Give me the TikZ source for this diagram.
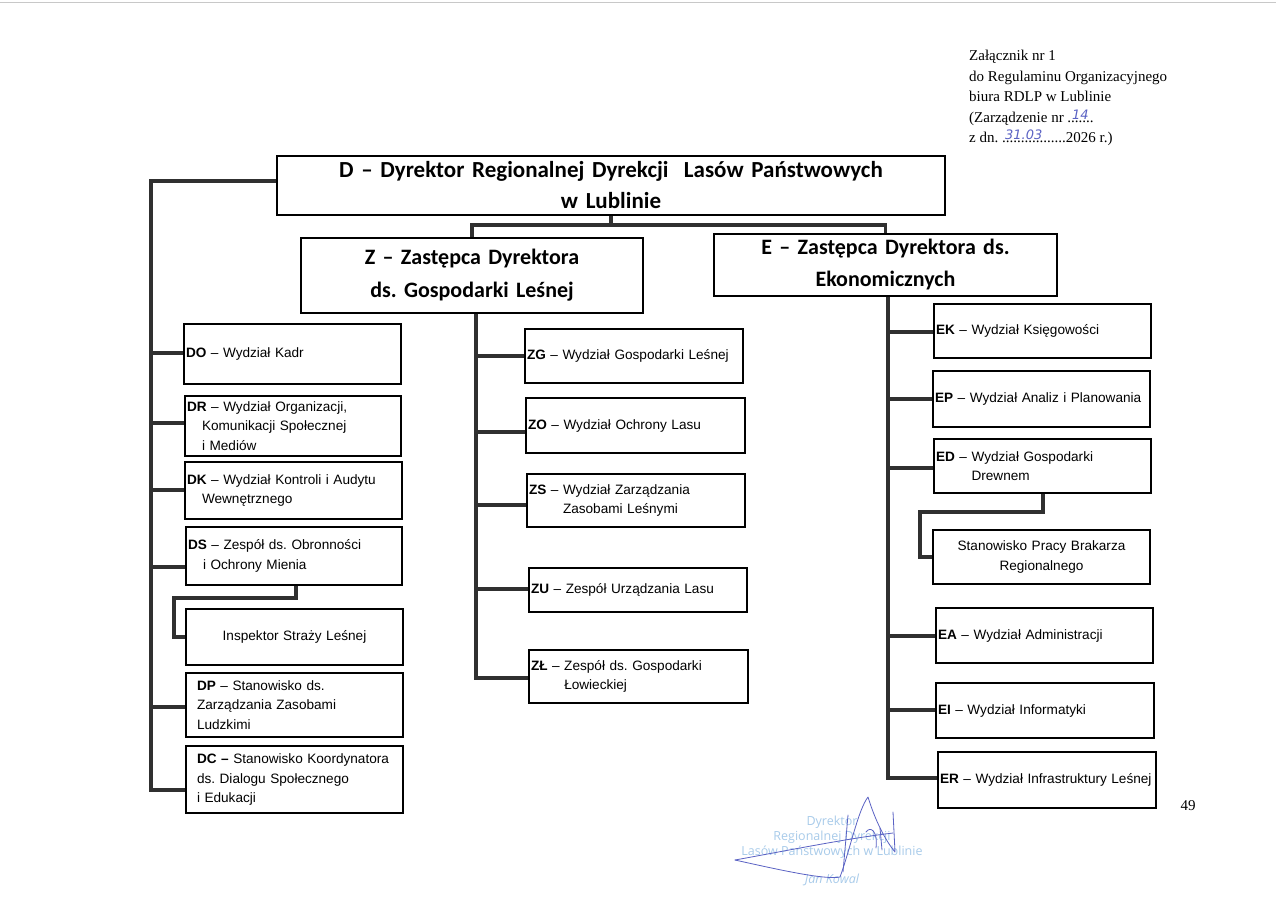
\documentclass[tikz,border=0pt]{standalone}
\usepackage{fontspec}
\setmainfont{Liberation Sans}
\newfontfamily\calib{Carlito}
\newfontfamily\tnr{Liberation Serif}
\newfontfamily\stampf{Open Sans}
\newfontfamily\handf{DejaVu Sans}
\definecolor{conn}{HTML}{303030}
\definecolor{stampblue}{HTML}{A8CBEA}
\definecolor{penblue}{HTML}{5A62C4}
\definecolor{scan}{HTML}{C8C8C8}
\newcommand{\orgbox}[7][]{%
  \pgfmathsetmacro\bw{#5-#3}\pgfmathsetmacro\bh{#6-#4}\pgfmathsetmacro\tw{#5-#3-4}%
  \node[box,minimum width=\bw pt,minimum height=\bh pt,text width=\tw pt,#1] (#2) at ({(#3+#5)/2},{(#4+#6)/2}) {#7};}
\newcommand{\ind}{\hspace*{15pt}}
\newcommand{\pad}{\hspace*{9pt}}
\newcommand{\hw}[1]{{\handf\itshape\color{penblue}\fontsize{13}{13}\selectfont #1}}
\begin{document}
\frenchspacing
\begin{tikzpicture}[x=1pt,y=-1pt,
  box/.style={draw=black,line width=1.3pt,rectangle,inner xsep=1.5pt,inner ysep=0pt,
    align=left,font=\fontsize{13.6}{19.5}\selectfont},
  headbox/.style={box,align=center,font=\calib\bfseries\fontsize{22}{33}\selectfont},
  cbox/.style={align=center},
  conn/.style={draw=conn,line width=3.3pt},
  stamp/.style={text=stampblue,font=\stampf\fontsize{12.5}{14}\selectfont,inner sep=0pt},
  pen/.style={draw=penblue,line width=0.8pt,line cap=round,line join=round}]
\useasboundingbox (0,0) rectangle (1276,898);
\fill[white] (0,0) rectangle (1276,898);
\draw[scan,line width=1pt] (0,2) -- (1276,2);

% annotation
\node[anchor=north west,align=left,inner sep=0pt,font=\tnr\fontsize{15}{20.5}\selectfont] (annot) at (969,50)
 {Załącznik nr 1\\do Regulaminu Organizacyjnego\\biura RDLP w Lublinie\\
  (Zarządzenie nr .\rlap{\hspace{1pt}\raisebox{3pt}{\hw{14}}}......\\
  z dn. \rlap{\hspace{3pt}\raisebox{3pt}{\hw{31.03}}}.................2026 r.)};

% top level
\orgbox[headbox,line width=1.6pt,font=\calib\bfseries\fontsize{23}{31}\selectfont]{D}{277}{156}{945}{215}
  {D – Dyrektor Regionalnej Dyrekcji~~Lasów Państwowych\\w Lublinie}
\orgbox[headbox]{Z}{301}{238}{643}{313}{Z – Zastępca Dyrektora\\ds. Gospodarki Leśnej}
\orgbox[headbox,font=\calib\bfseries\fontsize{22}{32}\selectfont]{E}{714}{234}{1057}{296}{E – Zastępca Dyrektora ds.\\Ekonomicznych}

% left column
\orgbox{DO}{184}{324}{401}{384}{\textbf{DO} – Wydział Kadr}
\orgbox{DR}{185}{396}{401}{456}{\textbf{DR} – Wydział Organizacji,\\\ind Komunikacji Społecznej\\\ind i Mediów}
\orgbox{DK}{185}{462}{402}{519}{\textbf{DK} – Wydział Kontroli i Audytu\\\ind Wewnętrznego}
\orgbox{DS}{186}{527}{402}{585}{\textbf{DS} – Zespół ds. Obronności\\\ind i Ochrony Mienia}
\orgbox[cbox]{IS}{186}{609}{403}{665}{Inspektor Straży Leśnej}
\orgbox{DP}{186}{673}{403}{737}{\pad\textbf{DP} – Stanowisko ds.\\\pad Zarządzania Zasobami\\\pad Ludzkimi}
\orgbox{DC}{186}{746}{403}{813}{\pad\textbf{DC –} Stanowisko Koordynatora\\\pad ds. Dialogu Społecznego\\\pad i Edukacji}

% middle column
\orgbox{ZG}{525}{329}{743}{383}{\textbf{ZG} – Wydział Gospodarki Leśnej}
\orgbox{ZO}{526}{398}{745}{453}{\textbf{ZO} – Wydział Ochrony Lasu}
\orgbox{ZS}{527}{474}{745}{527}{\textbf{ZS} – Wydział Zarządzania\\\phantom{\textbf{ZS} – }Zasobami Leśnymi}
\orgbox{ZU}{529}{568}{747}{612}{\textbf{ZU} – Zespół Urządzania Lasu}
\orgbox{ZL}{529}{650}{748}{703}{\textbf{ZŁ} – Zespół ds. Gospodarki\\\phantom{\textbf{ZŁ} – }Łowieckiej}

% right column
\orgbox{EK}{934}{304}{1151}{358}{\textbf{EK} – Wydział Księgowości}
\orgbox{EP}{933}{371}{1150}{427}{\textbf{EP} – Wydział Analiz i Planowania}
\orgbox{ED}{934}{439}{1151}{493}{\textbf{ED} – Wydział Gospodarki\\\phantom{\textbf{ED} – }Drewnem}
\orgbox[cbox]{BR}{933}{530}{1150}{584}{Stanowisko Pracy Brakarza\\Regionalnego}
\orgbox{EA}{936}{608}{1153}{663}{\textbf{EA} – Wydział Administracji}
\orgbox{EI}{936}{683}{1154}{738}{\textbf{EI} – Wydział Informatyki}
\orgbox{ER}{938}{752}{1156}{808}{\textbf{ER} – Wydział Infrastruktury Leśnej}

% connectors: top
\coordinate (dJ) at (612,225);
\draw[conn] (D.south) -- (D.south |- dJ);
\draw[conn] (Z.north) |- (E.north |- dJ) -- (E.north);

% left trunk
\coordinate (lDO) at (151,353);
\coordinate (lDR) at (151,423);
\coordinate (lDK) at (151,490);
\coordinate (lDS) at (151,567);
\coordinate (lDP) at (151,707);
\coordinate (lDC) at (151,790);
\coordinate (lTop) at (151,181);
\draw[conn] (lTop -| D.west) -- (lTop) -- (lDC) -- (lDC -| DC.west);
\foreach \b in {DO,DR,DK,DS,DP} \draw[conn] (l\b) -- (l\b -| \b.west);
\coordinate (isA) at (296,598);
\coordinate (isB) at (174,598);
\draw[conn] (isA |- DS.south) -- (isA) -- (isB) |- (IS.west);

% middle trunk
\coordinate (mZG) at (476,356);
\coordinate (mZO) at (476,432);
\coordinate (mZS) at (476,505);
\coordinate (mZU) at (476,589);
\coordinate (mZL) at (476,678);
\draw[conn] (mZL |- Z.south) -- (mZL) -- (mZL -| ZL.west);
\foreach \b in {ZG,ZO,ZS,ZU} \draw[conn] (m\b) -- (m\b -| \b.west);

% right trunk
\coordinate (rEK) at (888,332);
\coordinate (rEP) at (888,399);
\coordinate (rED) at (888,468);
\coordinate (rEA) at (888,636);
\coordinate (rEI) at (888,710);
\coordinate (rER) at (888,778);
\draw[conn] (rER |- E.south) -- (rER) -- (rER -| ER.west);
\foreach \b in {EK,EP,ED,EA,EI} \draw[conn] (r\b) -- (r\b -| \b.west);
\coordinate (bA) at (1043,512);
\coordinate (bB) at (920,512);
\draw[conn] (bA |- ED.south) -- (bA) -- (bB) |- (BR.west);

% page number
\node[font=\tnr\fontsize{15}{18}\selectfont,inner sep=0pt] (pg) at (1188,806) {49};

% stamp
\node[stamp] (st1) at (832,822) {Dyrektor};
\node[stamp] (st2) at (832,837) {Regionalnej Dyrekcji};
\node[stamp] (st3) at (832,852) {Lasów Państwowych w Lublinie};
\node[stamp,font=\stampf\itshape\fontsize{12.5}{14}\selectfont] (st4) at (832,880) {Jan Kowal};

% signature
\draw[pen] (735,860) .. controls (790,850) and (850,838) .. (893,833);
\draw[pen] (735,860) .. controls (780,870) and (825,880) .. (840,877)
  .. controls (850,850) and (858,810) .. (868,797)
  .. controls (875,820) and (885,840) .. (895,852) -- (893,812);
\draw[pen] (848,815) -- (843,872);
\draw[pen] (866,832) .. controls (870,826) and (878,830) .. (876,848);
\draw[pen] (880,828) -- (882,850);
\end{tikzpicture}
\end{document}
